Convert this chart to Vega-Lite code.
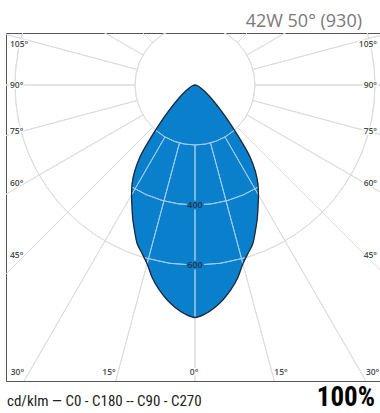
{
  "$schema": "https://vega.github.io/schema/vega-lite/v6.json",
  "width": 374,
  "height": 348,
  "autosize": {"type": "none"},
  "padding": {"left": 6, "top": 33, "right": 0, "bottom": 32},
  "background": "white",
  "config": {"view": {"stroke": "#555555", "strokeWidth": 1}, "text": {"font": "Open Sans"}},
  "datasets": {
    "rings": [{"r": 200}, {"r": 400}, {"r": 600}, {"r": 800}, {"r": 1000}, {"r": 1200}, {"r": 1400}],
    "spokes": [{"a": 0}, {"a": 15}, {"a": 30}, {"a": 45}, {"a": 60}, {"a": 75}, {"a": 90}, {"a": 105}, {"a": 120}, {"a": 135}, {"a": 150}, {"a": 165}, {"a": 180}, {"a": 195}, {"a": 210}, {"a": 225}, {"a": 240}, {"a": 255}, {"a": 270}, {"a": 285}, {"a": 300}, {"a": 315}, {"a": 330}, {"a": 345}],
    "curve": [
      {"g": -90, "cd": 0}, {"g": -80, "cd": 5}, {"g": -70, "cd": 12}, {"g": -60, "cd": 28}, {"g": -55, "cd": 45}, {"g": -50, "cd": 75}, {"g": -45, "cd": 130}, {"g": -42.5, "cd": 172}, {"g": -40, "cd": 228}, {"g": -37.5, "cd": 300}, {"g": -35, "cd": 350}, {"g": -32.5, "cd": 390}, {"g": -30, "cd": 423}, {"g": -27.5, "cd": 455}, {"g": -25, "cd": 491}, {"g": -22.5, "cd": 526}, {"g": -20, "cd": 563}, {"g": -17.5, "cd": 588}, {"g": -15, "cd": 617}, {"g": -12.5, "cd": 658}, {"g": -10, "cd": 692}, {"g": -7.5, "cd": 721}, {"g": -5, "cd": 745}, {"g": -2.5, "cd": 764}, {"g": 0, "cd": 775},
      {"g": 2.5, "cd": 764}, {"g": 5, "cd": 745}, {"g": 7.5, "cd": 721}, {"g": 10, "cd": 692}, {"g": 12.5, "cd": 658}, {"g": 15, "cd": 617}, {"g": 17.5, "cd": 588}, {"g": 20, "cd": 563}, {"g": 22.5, "cd": 526}, {"g": 25, "cd": 491}, {"g": 27.5, "cd": 455}, {"g": 30, "cd": 423}, {"g": 32.5, "cd": 390}, {"g": 35, "cd": 350}, {"g": 37.5, "cd": 300}, {"g": 40, "cd": 228}, {"g": 42.5, "cd": 172}, {"g": 45, "cd": 130}, {"g": 50, "cd": 75}, {"g": 55, "cd": 45}, {"g": 60, "cd": 28}, {"g": 70, "cd": 12}, {"g": 80, "cd": 5}, {"g": 90, "cd": 0}
    ],
    "innerSpokes": [{"a": 180, "cd": 775}, {"a": 165, "cd": 617}, {"a": 195, "cd": 617}, {"a": 150, "cd": 423}, {"a": 210, "cd": 423}],
    "innerRings": [{"r": 200, "a0": 138.8, "a1": 221.2}, {"r": 400, "a0": 148.1, "a1": 211.9}, {"r": 600, "a0": 163.6, "a1": 196.4}],
    "ringlabels": [{"r": 400, "t": "400"}, {"r": 600, "t": "600"}],
    "sidelabels": [{"g": 105, "t": "105°"}, {"g": 90, "t": "90°"}, {"g": 75, "t": "75°"}, {"g": 60, "t": "60°"}, {"g": 45, "t": "45°"}],
    "bottomlabels": [{"g": 30, "t": "30°"}, {"g": 15, "t": "15°"}],
    "centerlabel": [{"t": "0°"}],
    "texts": [{"title": "42W 50° (930)", "legend": "cd/klm — C0 - C180 -- C90 - C270", "flux": "100%"}]
  },
  "layer": [
    {
      "data": {"name": "rings"},
      "mark": {"type": "arc", "filled": false, "stroke": "#dddddd", "strokeWidth": 1, "theta": 0, "theta2": 6.2832, "clip": true},
      "encoding": {
        "x": {"datum": 0, "type": "quantitative", "scale": {"domain": [-630, 616.667], "nice": false, "zero": false}, "axis": null},
        "y": {"datum": 0, "type": "quantitative", "scale": {"domain": [-986.667, 173.333], "nice": false, "zero": false}, "axis": null},
        "radius": {"field": "r", "type": "quantitative", "scale": {"type": "linear", "domain": [0, 1000], "range": [0, 300], "zero": true}}
      }
    },
    {
      "data": {"name": "spokes"},
      "mark": {"type": "arc", "filled": false, "stroke": "#dddddd", "strokeWidth": 1, "clip": true},
      "encoding": {
        "x": {"datum": 0, "type": "quantitative", "scale": {"domain": [-630, 616.667], "nice": false, "zero": false}, "axis": null},
        "y": {"datum": 0, "type": "quantitative", "scale": {"domain": [-986.667, 173.333], "nice": false, "zero": false}, "axis": null},
        "theta": {"field": "a", "type": "quantitative", "stack": null, "scale": {"type": "linear", "domain": [0, 360], "range": [0, 6.283185307]}},
        "theta2": {"field": "a"},
        "radius": {"datum": 200, "type": "quantitative", "scale": {"type": "linear", "domain": [0, 1000], "range": [0, 300], "zero": true}},
        "radius2": {"datum": 3000}
      }
    },
    {
      "data": {"name": "curve"},
      "transform": [
        {"calculate": "datum.cd * sin(datum.g * PI / 180)", "as": "px"},
        {"calculate": "-datum.cd * cos(datum.g * PI / 180)", "as": "py"}
      ],
      "mark": {"type": "line", "fill": "#0a7fcc", "stroke": "#0a7fcc", "strokeWidth": 0.5, "interpolate": "catmull-rom", "clip": true},
      "encoding": {
        "x": {"field": "px", "type": "quantitative", "scale": {"domain": [-630, 616.667], "nice": false, "zero": false}, "axis": null},
        "y": {"field": "py", "type": "quantitative", "scale": {"domain": [-986.667, 173.333], "nice": false, "zero": false}, "axis": null},
        "order": {"field": "g", "type": "quantitative"}
      }
    },
    {
      "data": {"name": "innerSpokes"},
      "mark": {"type": "arc", "filled": false, "stroke": "#9fcdea", "strokeWidth": 1, "clip": true},
      "encoding": {
        "x": {"datum": 0, "type": "quantitative", "scale": {"domain": [-630, 616.667], "nice": false, "zero": false}, "axis": null},
        "y": {"datum": 0, "type": "quantitative", "scale": {"domain": [-986.667, 173.333], "nice": false, "zero": false}, "axis": null},
        "theta": {"field": "a", "type": "quantitative", "stack": null, "scale": {"type": "linear", "domain": [0, 360], "range": [0, 6.283185307]}},
        "theta2": {"field": "a"},
        "radius": {"field": "cd", "type": "quantitative", "scale": {"type": "linear", "domain": [0, 1000], "range": [0, 300], "zero": true}},
        "radius2": {"datum": 200}
      }
    },
    {
      "data": {"name": "innerRings"},
      "mark": {"type": "arc", "filled": false, "stroke": "#9fcdea", "strokeWidth": 1, "clip": true},
      "encoding": {
        "x": {"datum": 0, "type": "quantitative", "scale": {"domain": [-630, 616.667], "nice": false, "zero": false}, "axis": null},
        "y": {"datum": 0, "type": "quantitative", "scale": {"domain": [-986.667, 173.333], "nice": false, "zero": false}, "axis": null},
        "theta": {"field": "a0", "type": "quantitative", "stack": null, "scale": {"type": "linear", "domain": [0, 360], "range": [0, 6.283185307]}},
        "theta2": {"field": "a1"},
        "radius": {"field": "r", "type": "quantitative", "scale": {"type": "linear", "domain": [0, 1000], "range": [0, 300], "zero": true}},
        "radius2": {"field": "r"}
      }
    },
    {
      "data": {"name": "curve"},
      "transform": [
        {"calculate": "datum.cd * sin(datum.g * PI / 180)", "as": "px"},
        {"calculate": "-datum.cd * cos(datum.g * PI / 180)", "as": "py"}
      ],
      "mark": {"type": "line", "stroke": "#1c2a3a", "strokeWidth": 1.3, "interpolate": "catmull-rom", "clip": true},
      "encoding": {
        "x": {"field": "px", "type": "quantitative", "scale": {"domain": [-630, 616.667], "nice": false, "zero": false}, "axis": null},
        "y": {"field": "py", "type": "quantitative", "scale": {"domain": [-986.667, 173.333], "nice": false, "zero": false}, "axis": null},
        "order": {"field": "g", "type": "quantitative"}
      }
    },
    {
      "data": {"name": "ringlabels"},
      "transform": [{"calculate": "-datum.r", "as": "ny"}],
      "encoding": {
        "x": {"datum": 0, "type": "quantitative", "scale": {"domain": [-630, 616.667], "nice": false, "zero": false}, "axis": null},
        "y": {"field": "ny", "type": "quantitative", "scale": {"domain": [-986.667, 173.333], "nice": false, "zero": false}, "axis": null},
        "text": {"field": "t"}
      },
      "layer": [
        {"mark": {"type": "text", "fontSize": 9, "fontWeight": 600, "align": "center", "baseline": "middle", "fill": "#0a7fcc", "stroke": "#0a7fcc", "strokeWidth": 3}},
        {"mark": {"type": "text", "fontSize": 9, "fontWeight": 600, "align": "center", "baseline": "middle", "fill": "#2a3340"}}
      ]
    },
    {
      "data": {"name": "sidelabels"},
      "transform": [{"calculate": "min(-566.7 / tan(datum.g * PI / 180), 136.7)", "as": "ly"}],
      "encoding": {
        "x": {"datum": -616.7, "type": "quantitative", "scale": {"domain": [-630, 616.667], "nice": false, "zero": false}, "axis": null},
        "y": {"field": "ly", "type": "quantitative", "scale": {"domain": [-986.667, 173.333], "nice": false, "zero": false}, "axis": null},
        "text": {"field": "t"}
      },
      "layer": [
        {"mark": {"type": "text", "fontSize": 8.5, "fontWeight": 600, "align": "left", "baseline": "middle", "fill": "white", "stroke": "white", "strokeWidth": 3}},
        {"mark": {"type": "text", "fontSize": 8.5, "fontWeight": 600, "align": "left", "baseline": "middle", "fill": "#4a4a4a"}}
      ]
    },
    {
      "data": {"name": "sidelabels"},
      "transform": [{"calculate": "min(-566.7 / tan(datum.g * PI / 180), 136.7)", "as": "ly"}],
      "encoding": {
        "x": {"datum": 606.7, "type": "quantitative", "scale": {"domain": [-630, 616.667], "nice": false, "zero": false}, "axis": null},
        "y": {"field": "ly", "type": "quantitative", "scale": {"domain": [-986.667, 173.333], "nice": false, "zero": false}, "axis": null},
        "text": {"field": "t"}
      },
      "layer": [
        {"mark": {"type": "text", "fontSize": 8.5, "fontWeight": 600, "align": "right", "baseline": "middle", "fill": "white", "stroke": "white", "strokeWidth": 3}},
        {"mark": {"type": "text", "fontSize": 8.5, "fontWeight": 600, "align": "right", "baseline": "middle", "fill": "#4a4a4a"}}
      ]
    },
    {
      "data": {"name": "bottomlabels"},
      "transform": [{"calculate": "-986.7 * tan(datum.g * PI / 180)", "as": "lx"}],
      "encoding": {
        "x": {"field": "lx", "type": "quantitative", "scale": {"domain": [-630, 616.667], "nice": false, "zero": false}, "axis": null},
        "y": {"datum": -956.7, "type": "quantitative", "scale": {"domain": [-986.667, 173.333], "nice": false, "zero": false}, "axis": null},
        "text": {"field": "t"}
      },
      "layer": [
        {"mark": {"type": "text", "fontSize": 8.5, "fontWeight": 600, "align": "right", "baseline": "middle", "fill": "white", "stroke": "white", "strokeWidth": 3}},
        {"mark": {"type": "text", "fontSize": 8.5, "fontWeight": 600, "align": "right", "baseline": "middle", "fill": "#4a4a4a"}}
      ]
    },
    {
      "data": {"name": "bottomlabels"},
      "transform": [{"calculate": "986.7 * tan(datum.g * PI / 180)", "as": "lx"}],
      "encoding": {
        "x": {"field": "lx", "type": "quantitative", "scale": {"domain": [-630, 616.667], "nice": false, "zero": false}, "axis": null},
        "y": {"datum": -956.7, "type": "quantitative", "scale": {"domain": [-986.667, 173.333], "nice": false, "zero": false}, "axis": null},
        "text": {"field": "t"}
      },
      "layer": [
        {"mark": {"type": "text", "fontSize": 8.5, "fontWeight": 600, "align": "left", "baseline": "middle", "fill": "white", "stroke": "white", "strokeWidth": 3}},
        {"mark": {"type": "text", "fontSize": 8.5, "fontWeight": 600, "align": "left", "baseline": "middle", "fill": "#4a4a4a"}}
      ]
    },
    {
      "data": {"name": "centerlabel"},
      "encoding": {
        "x": {"datum": -3, "type": "quantitative", "scale": {"domain": [-630, 616.667], "nice": false, "zero": false}, "axis": null},
        "y": {"datum": -956.7, "type": "quantitative", "scale": {"domain": [-986.667, 173.333], "nice": false, "zero": false}, "axis": null},
        "text": {"field": "t"}
      },
      "layer": [
        {"mark": {"type": "text", "fontSize": 8.5, "fontWeight": 600, "align": "center", "baseline": "middle", "fill": "white", "stroke": "white", "strokeWidth": 3}},
        {"mark": {"type": "text", "fontSize": 8.5, "fontWeight": 600, "align": "center", "baseline": "middle", "fill": "#4a4a4a"}}
      ]
    },
    {
      "data": {"name": "texts"},
      "mark": {"type": "text", "fontSize": 18, "align": "right", "baseline": "alphabetic", "fill": "#7a7a7a", "font": "Open Sans"},
      "encoding": {
        "x": {"datum": 556.7, "type": "quantitative", "scale": {"domain": [-630, 616.667], "nice": false, "zero": false}, "axis": null},
        "y": {"datum": 193.3, "type": "quantitative", "scale": {"domain": [-986.667, 173.333], "nice": false, "zero": false}, "axis": null},
        "text": {"field": "title"}
      }
    },
    {
      "data": {"name": "texts"},
      "mark": {"type": "text", "fontSize": 15, "align": "left", "baseline": "alphabetic", "fill": "#222222", "font": "Liberation Sans Narrow, Roboto Condensed, DejaVu Sans Condensed, sans-serif"},
      "encoding": {
        "x": {"datum": -626.7, "type": "quantitative", "scale": {"domain": [-630, 616.667], "nice": false, "zero": false}, "axis": null},
        "y": {"datum": -1070, "type": "quantitative", "scale": {"domain": [-986.667, 173.333], "nice": false, "zero": false}, "axis": null},
        "text": {"field": "legend"}
      }
    },
    {
      "data": {"name": "texts"},
      "mark": {"type": "text", "fontSize": 27, "fontWeight": "bold", "align": "right", "baseline": "alphabetic", "fill": "#000000", "font": "Liberation Sans Narrow, Roboto Condensed, DejaVu Sans Condensed, sans-serif"},
      "encoding": {
        "x": {"datum": 600, "type": "quantitative", "scale": {"domain": [-630, 616.667], "nice": false, "zero": false}, "axis": null},
        "y": {"datum": -1070, "type": "quantitative", "scale": {"domain": [-986.667, 173.333], "nice": false, "zero": false}, "axis": null},
        "text": {"field": "flux"}
      }
    }
  ]
}
